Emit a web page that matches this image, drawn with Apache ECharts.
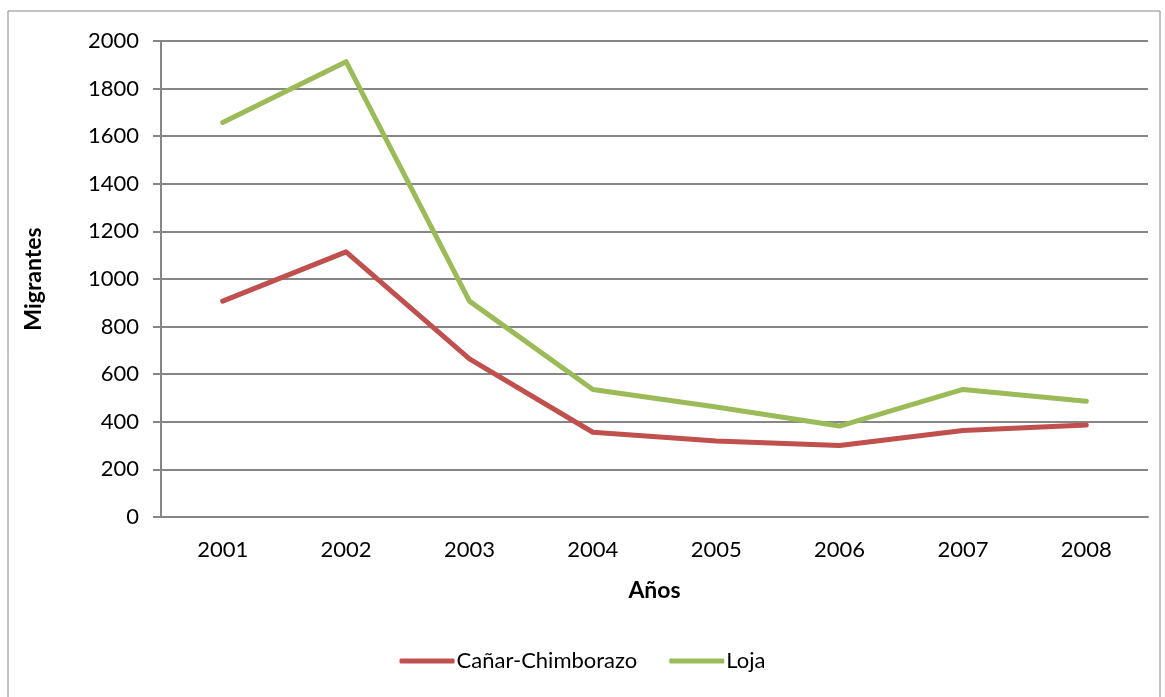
<!DOCTYPE html>
<html>
<head>
<meta charset="utf-8">
<script src="https://cdn.jsdelivr.net/npm/echarts@6/dist/echarts.min.js"></script>
<style>
  html, body { margin: 0; padding: 0; background: #fff; }
  #chart { width: 1165px; height: 697px; }
</style>
</head>
<body>
<div id="chart"></div>
<script>
// datos
const years = ['2001', '2002', '2003', '2004', '2005', '2006', '2007', '2008'];
const canar = [907, 1114, 664, 356, 319, 300, 363, 387];
const loja = [1658, 1913, 907, 536, 462, 382, 536, 486];
const yTicks = [0, 200, 400, 600, 800, 1000, 1200, 1400, 1600, 1800, 2000];

const font = 'Lato, "Open Sans", sans-serif';
const gray = '#868686';

const chart = echarts.init(document.getElementById('chart'));

const option = {
  animation: false,
  textStyle: { fontFamily: font, color: '#000' },
  graphic: [
    {
      type: 'rect',
      shape: { x: 8, y: 11, width: 1152, height: 700 },
      style: { fill: 'none', stroke: gray, lineWidth: 1 },
      silent: true,
    },
  ],
  grid: {
    left: 161,
    top: 41,
    right: 17,
    bottom: 180,
  },
  legend: {
    bottom: 20,
    left: 'center',
    icon: 'roundRect',
    itemWidth: 55,
    itemHeight: 5,
    itemGap: 32,
    textStyle: { fontSize: 22, fontFamily: font, color: '#000', padding: [0, 0, 0, -3] },
    data: ['Cañar-Chimborazo', 'Loja'],
  },
  xAxis: {
    type: 'category',
    data: years,
    boundaryGap: true,
    name: 'Años',
    nameLocation: 'middle',
    nameGap: 62,
    nameTextStyle: { fontSize: 23, fontWeight: 'bold', fontFamily: font, color: '#000' },
    axisLine: { show: true, lineStyle: { color: gray, width: 2 } },
    axisTick: { show: false },
    axisLabel: { fontSize: 22, margin: 22, color: '#000', fontFamily: font },
    splitLine: { show: false },
  },
  yAxis: {
    type: 'value',
    min: yTicks[0],
    max: yTicks[yTicks.length - 1],
    interval: 200,
    name: 'Migrantes',
    nameLocation: 'middle',
    nameGap: 116,
    nameTextStyle: { fontSize: 23, fontWeight: 'bold', fontFamily: font, color: '#000' },
    axisLine: { show: true, lineStyle: { color: gray, width: 2 } },
    axisTick: { show: true, length: 8, lineStyle: { color: gray, width: 2 } },
    axisLabel: {
      fontSize: 22,
      margin: 22,
      color: '#000',
      fontFamily: font,
      formatter: (v) => String(v),
    },
    splitLine: { show: true, lineStyle: { color: gray, width: 2 } },
  },
  series: [
    {
      name: 'Cañar-Chimborazo',
      type: 'line',
      data: canar,
      symbol: 'none',
      color: '#C0504D',
      lineStyle: { width: 5, color: '#C0504D', cap: 'round', join: 'round' },
    },
    {
      name: 'Loja',
      type: 'line',
      data: loja,
      symbol: 'none',
      color: '#9BBB59',
      lineStyle: { width: 5, color: '#9BBB59', cap: 'round', join: 'round' },
    },
  ],
};

chart.setOption(option);
</script>
</body>
</html>
